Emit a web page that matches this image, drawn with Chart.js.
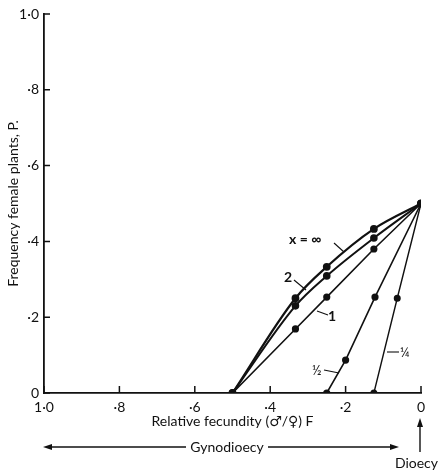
<!DOCTYPE html>
<html lang="en">
<head>
    <meta charset="UTF-8">
    <title>Frequency of female plants against relative fecundity</title>
    <script src="https://cdn.jsdelivr.net/npm/chart.js"></script>
    <style>
        html, body { margin: 0; padding: 0; background: #fff; }
        #wrap { width: 438px; height: 470px; }
    </style>
</head>
<body>
<div id="wrap"><canvas id="fecundityChart" width="438" height="470"></canvas></div>
<script>
    // values: F (x axis, reversed) and P (y axis)
    const fCurve = [0.5, 0.333, 0.25, 0.125, 0];
    const pInfinity = [0, 0.25, 0.333, 0.433, 0.5];
    const pTwo = [0, 0.23, 0.309, 0.409, 0.5];
    const pOne = [0, 0.169, 0.253, 0.38, 0.5];
    const fHalf = [0.25, 0.2, 0.122, 0];
    const pHalf = [0, 0.087, 0.253, 0.5];
    const fQuarter = [0.125, 0.063, 0];
    const pQuarter = [0, 0.25, 0.5];

    const tickValues = [0, 0.2, 0.4, 0.6, 0.8, 1.0];
    const tickLabels = ['0', '·2', '·4', '·6', '·8', '1·0'];

    const FONT = "Lato, 'DejaVu Sans', sans-serif";

    function toPoints(xs, ys) {
        return xs.map((x, i) => ({ x: x, y: ys[i] }));
    }

    function tickText(value) {
        const i = tickValues.findIndex(v => Math.abs(v - value) < 1e-6);
        return i >= 0 ? tickLabels[i] : '';
    }

    function makeSet(label, xs, ys, width, curved) {
        return {
            label: label,
            data: toPoints(xs, ys),
            borderColor: '#111',
            backgroundColor: '#111',
            borderWidth: width,
            pointRadius: 2.8,
            pointHoverRadius: 2.8,
            cubicInterpolationMode: curved ? 'monotone' : 'default',
            tension: 0,
            fill: false
        };
    }

    // inward ticks, curve labels and the gynodioecy / dioecy arrows
    const annotations = {
        id: 'annotations',
        afterDraw(chart) {
            const ctx = chart.ctx;
            const xs = chart.scales.x;
            const ys = chart.scales.y;
            const area = chart.chartArea;
            ctx.save();
            ctx.strokeStyle = '#111';
            ctx.fillStyle = '#111';
            ctx.lineWidth = 1.5;

            ctx.beginPath();
            tickValues.forEach(v => {
                const px = xs.getPixelForValue(v);
                ctx.moveTo(px, area.bottom);
                ctx.lineTo(px, area.bottom - 7);
                const py = ys.getPixelForValue(v);
                ctx.moveTo(area.left, py);
                ctx.lineTo(area.left + 6, py);
            });
            ctx.stroke();

            function line(x1, y1, x2, y2) {
                ctx.beginPath();
                ctx.moveTo(x1, y1);
                ctx.lineTo(x2, y2);
                ctx.stroke();
            }

            // curve labels with short leader lines
            ctx.lineWidth = 1.1;
            ctx.font = 'bold 14px ' + FONT;
            ctx.textBaseline = 'middle';
            ctx.textAlign = 'left';
            ctx.fillText('x = ∞', 289, 239);
            line(334, 243, 344, 252);
            ctx.fillText('2', 284, 277);
            line(294, 280, 306, 290);
            ctx.fillText('1', 328, 316);
            line(317, 311, 328, 315);
            ctx.font = '13px ' + FONT;
            ctx.fillText('½', 312, 371);
            line(324, 370, 339, 373);
            ctx.fillText('¼', 400, 353);
            line(387, 352, 399, 352);

            // Gynodioecy arrow
            ctx.font = '14px ' + FONT;
            ctx.textAlign = 'center';
            ctx.lineWidth = 1.4;
            const arrowY = 447;
            line(46, arrowY, 186, arrowY);
            line(268, arrowY, 396, arrowY);
            ctx.beginPath();
            ctx.moveTo(43, arrowY);
            ctx.lineTo(52, arrowY - 3);
            ctx.lineTo(52, arrowY + 3);
            ctx.closePath();
            ctx.fill();
            ctx.beginPath();
            ctx.moveTo(399, arrowY);
            ctx.lineTo(390, arrowY - 3);
            ctx.lineTo(390, arrowY + 3);
            ctx.closePath();
            ctx.fill();
            ctx.fillText('Gynodioecy', 227, arrowY);

            // Dioecy arrow pointing up at F = 0
            const dx = xs.getPixelForValue(0) - 1;
            line(dx, 423, dx, 452);
            ctx.beginPath();
            ctx.moveTo(dx, 418);
            ctx.lineTo(dx - 3, 427);
            ctx.lineTo(dx + 3, 427);
            ctx.closePath();
            ctx.fill();
            ctx.textAlign = 'right';
            ctx.fillText('Dioecy', 438, 463);
            ctx.restore();
        }
    };

    const ctx = document.getElementById('fecundityChart').getContext('2d');
    const chart = new Chart(ctx, {
        type: 'line',
        data: {
            datasets: [
                makeSet('x = ∞', fCurve, pInfinity, 2.2, true),
                makeSet('2', fCurve, pTwo, 2, true),
                makeSet('1', fCurve, pOne, 1.6, false),
                makeSet('½', fHalf, pHalf, 1.6, false),
                makeSet('¼', fQuarter, pQuarter, 1.4, false)
            ]
        },
        options: {
            responsive: false,
            animation: { duration: 0 },
            layout: { padding: { top: 14, right: 17, left: 0, bottom: 0 } },
            plugins: {
                legend: { display: false },
                tooltip: { enabled: false }
            },
            scales: {
                x: {
                    type: 'linear',
                    reverse: true,
                    min: 0,
                    max: 1,
                    afterFit(scale) { scale.height = 77; },
                    afterBuildTicks(scale) { scale.ticks = tickValues.map(v => ({ value: v })); },
                    grid: { display: false, drawTicks: false },
                    border: { display: true, color: '#111', width: 1.8 },
                    ticks: {
                        color: '#111',
                        padding: 6,
                        maxRotation: 0,
                        font: { family: FONT, size: 14 },
                        callback: value => tickText(value)
                    },
                    title: {
                        display: true,
                        text: 'Relative fecundity (♂/♀) F',
                        color: '#111',
                        font: { family: FONT, size: 14 },
                        padding: { top: 0, bottom: 40 }
                    }
                },
                y: {
                    type: 'linear',
                    min: 0,
                    max: 1,
                    afterFit(scale) { scale.width = 44; },
                    afterBuildTicks(scale) { scale.ticks = tickValues.map(v => ({ value: v })); },
                    grid: { display: false, drawTicks: false },
                    border: { display: true, color: '#111', width: 1.8 },
                    ticks: {
                        color: '#111',
                        padding: 5,
                        font: { family: FONT, size: 14 },
                        callback: value => tickText(value)
                    },
                    title: {
                        display: true,
                        text: 'Frequency female plants, P.',
                        color: '#111',
                        font: { family: FONT, size: 14 },
                        padding: { top: 5, bottom: 0 }
                    }
                }
            }
        },
        plugins: [annotations]
    });
</script>
</body>
</html>
